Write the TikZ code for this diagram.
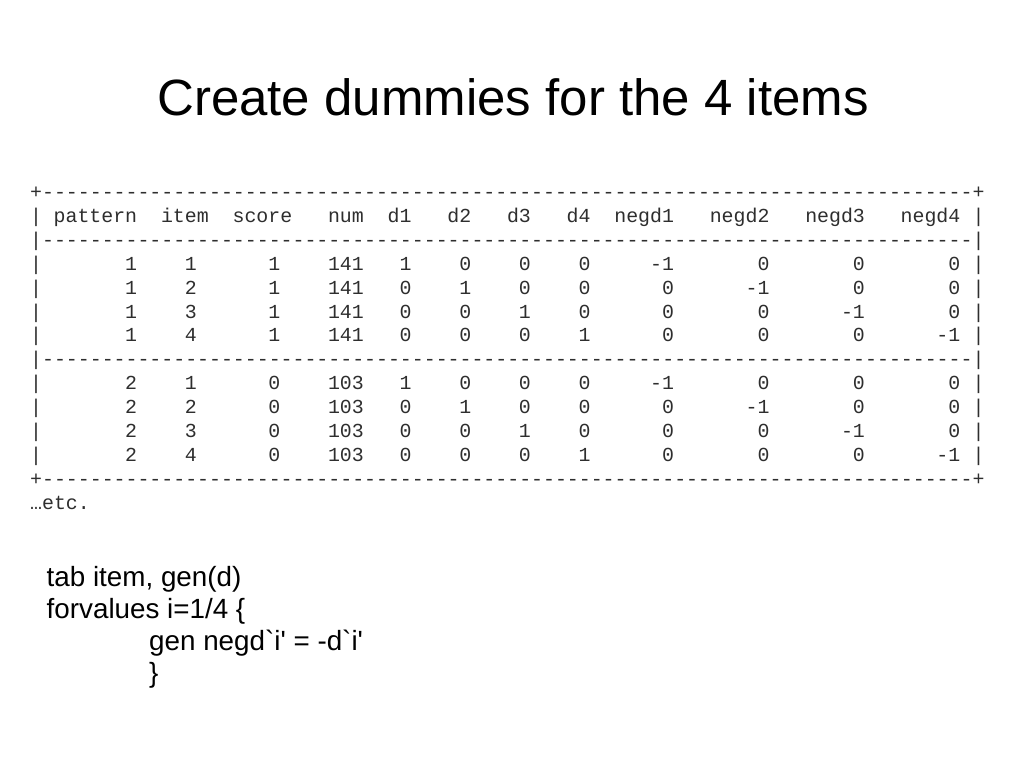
\documentclass[tikz,border=0pt]{standalone}
\usepackage{fontspec}
\setmainfont{Liberation Sans}
\newfontfamily\tabfont{Liberation Mono}
\newfontfamily\codefont{Liberation Sans}
\definecolor{tabink}{gray}{0.18}
\def\dashes{------------------------------------------------------------------------------}
\def\pitch{11.93}
\def\xo{30}
\def\yo{198.5}
\def\lh{23.9}
\begin{document}
\begin{tikzpicture}[x=1pt,y=-1pt,
  tabr/.style={font=\tabfont\fontsize{19.88}{23.9}\selectfont, text=tabink, inner sep=0pt, anchor=base east},
  tabl/.style={font=\tabfont\fontsize{19.88}{23.9}\selectfont, text=tabink, inner sep=0pt, anchor=base west},
  titletext/.style={font=\fontsize{51}{60}\selectfont, inner sep=0pt, anchor=base},
  codetext/.style={font=\codefont\fontsize{27.8}{32}\selectfont, inner sep=0pt, anchor=base west}]
\useasboundingbox (0,0) rectangle (1024,768);
\fill[white] (0,0) rectangle (1024,768);
% title
\node[titletext] (title) at (513,115) {Create dummies for the 4 items};
% table frame lines
\node[tabl] (topline) at (\xo,{\yo}) {+\dashes+};
\node[tabl] (sep1) at (\xo,{\yo+2*\lh}) {|\dashes|};
\node[tabl] (sep2) at (\xo,{\yo+7*\lh}) {|\dashes|};
\node[tabl] (botline) at (\xo,{\yo+12*\lh}) {+\dashes+};
\node[tabl] (etc) at (\xo,{\yo+13*\lh}) {…etc.};
% side bars
\foreach \k in {1,3,4,5,6,8,9,10,11} {
  \node[tabl] (lb\k) at (\xo,{\yo+\k*\lh}) {|};
  \node[tabl] (rb\k) at ({\xo+79*\pitch},{\yo+\k*\lh}) {|};
}
% header
\foreach \t [count=\j] in {pattern,item,score,num,d1,d2,d3,d4,negd1,negd2,negd3,negd4} {
  \pgfmathsetmacro\ee{{8,14,21,27,31,36,41,46,53,61,69,77}[\j-1]}
  \node[tabr] (h\j) at ({\xo+(\ee+1)*\pitch},{\yo+\lh}) {\t};
}
% data rows
\foreach \k/\vals in {
  3/{1,1,1,141,1,0,0,0,-1,0,0,0},
  4/{1,2,1,141,0,1,0,0,0,-1,0,0},
  5/{1,3,1,141,0,0,1,0,0,0,-1,0},
  6/{1,4,1,141,0,0,0,1,0,0,0,-1},
  8/{2,1,0,103,1,0,0,0,-1,0,0,0},
  9/{2,2,0,103,0,1,0,0,0,-1,0,0},
  10/{2,3,0,103,0,0,1,0,0,0,-1,0},
  11/{2,4,0,103,0,0,0,1,0,0,0,-1}} {
  \foreach \v [count=\j] in \vals {
    \pgfmathsetmacro\ee{{8,13,20,27,31,36,41,46,53,61,69,77}[\j-1]}
    \node[tabr] (v\k-\j) at ({\xo+(\ee+1)*\pitch},{\yo+\k*\lh}) {\v};
  }
}
% code
\node[codetext] (code1) at (46.5,586) {tab item, gen(d)};
\node[codetext] (code2) at (46.5,618) {forvalues i=1/4 \{};
\node[codetext] (code3) at (149,650) {gen negd`i' = -d`i'};
\node[codetext] (code4) at (149,682) {\}};
\end{tikzpicture}
\end{document}
